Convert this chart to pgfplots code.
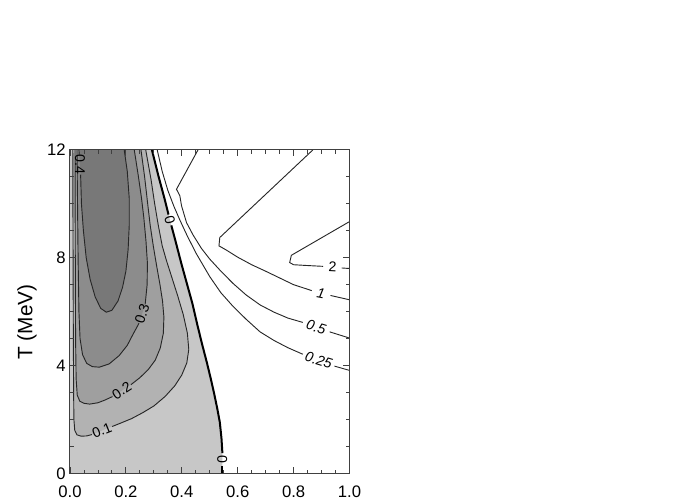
\documentclass[border=0pt]{standalone}
\usepackage{fontspec}
\setmainfont{Liberation Sans}
\usepackage{pgfplots}
\pgfplotsset{compat=1.18}

\definecolor{lev0}{gray}{0.78}
\definecolor{lev1}{gray}{0.70}
\definecolor{lev2}{gray}{0.625}
\definecolor{lev3}{gray}{0.55}
\definecolor{lev4}{gray}{0.47}

\begin{document}
\begin{tikzpicture}
\begin{axis}[
  x=167.7pt, y=16.175pt,
  xmin=0, xmax=1, ymin=0, ymax=12,
  axis on top,
  xtick={0,0.2,0.4,0.6,0.8,1},
  ytick={0,4,8,12},
  minor x tick num=3, minor y tick num=3,
  tick align=inside,
  xtick pos=both, ytick pos=both,
  major tick length=3.8pt, minor tick length=2.2pt,
  tick style={black!75, line width=0.5pt},
  axis line style={black!75, line width=0.6pt},
  /pgf/number format/assume math mode=true,
  tick label style={font=\fontsize{10}{12}\selectfont},
  xticklabel style={yshift=-3.8pt, /pgf/number format/fixed, /pgf/number format/fixed zerofill, /pgf/number format/precision=1},
  yticklabel style={xshift=1pt},
  ylabel={T (MeV)},
  ylabel style={font=\fontsize{12.5}{14}\selectfont, at={(axis description cs:-0.154,0.468)}, anchor=center},
  clip=true,
]
% filled bands
\addplot[draw=none, fill=lev0] coordinates {
  (0,0) (0.545,0) (0.545,0.8) (0.542,1.3) (0.536,1.9) (0.527,2.4) (0.516,2.95)
  (0.504,3.5) (0.49,4.1) (0.474,4.74) (0.457,5.45) (0.438,6.3) (0.418,7.05)
  (0.398,7.8) (0.378,8.6) (0.358,9.38) (0.338,10.2) (0.316,11.05) (0.293,12) (0,12)
};
\addplot[draw=none, fill=lev1] coordinates {
  (0.010,12) (0.011,8) (0.012,5) (0.013,3) (0.014,2) (0.017,1.6) (0.025,1.43)
  (0.04,1.38) (0.06,1.39) (0.078,1.44) (0.114,1.59) (0.151,1.74) (0.18,1.86)
  (0.22,2.03) (0.26,2.25) (0.30,2.5) (0.34,2.85) (0.375,3.25) (0.40,3.65)
  (0.418,4.1) (0.425,4.6) (0.42,5.2) (0.405,5.9) (0.385,6.6) (0.365,7.25)
  (0.345,7.9) (0.33,8.44) (0.316,9.2) (0.303,10) (0.29,10.9) (0.271,12)
};
\addplot[draw=none, fill=lev2] coordinates {
  (0.018,12) (0.019,8) (0.02,5) (0.022,3.5) (0.026,2.9) (0.035,2.68) (0.05,2.6)
  (0.07,2.57) (0.10,2.62) (0.125,2.72) (0.152,2.85) (0.185,3.07) (0.218,3.29)
  (0.25,3.55) (0.28,3.85) (0.305,4.2) (0.323,4.65) (0.334,5.2) (0.336,5.8)
  (0.331,6.4) (0.322,7) (0.31,7.7) (0.298,8.44) (0.287,9.2) (0.278,10)
  (0.267,11) (0.254,12)
};
\addplot[draw=none, fill=lev3] coordinates {
  (0.025,12) (0.027,10) (0.029,8) (0.032,6) (0.036,5) (0.045,4.4) (0.06,4.08)
  (0.08,3.96) (0.105,3.94) (0.14,4.06) (0.176,4.37) (0.205,4.75) (0.225,5.15)
  (0.247,5.57) (0.258,5.92) (0.269,6.27) (0.276,7) (0.277,7.8) (0.272,8.6)
  (0.264,9.5) (0.256,10.2) (0.245,11) (0.23,12)
};
\addplot[draw=none, fill=lev4] coordinates {
  (0.032,12) (0.036,11.45) (0.038,11.08) (0.041,10) (0.048,9) (0.058,8)
  (0.072,7.2) (0.09,6.55) (0.11,6.12) (0.13,5.98) (0.15,6.05) (0.172,6.4)
  (0.188,6.9) (0.2,7.5) (0.208,8.3) (0.212,9.2) (0.212,10.2) (0.205,11.2) (0.194,12)
};

% contour lines, left part
\pgfplotsset{cl/.style={black!85, line width=0.55pt}}
\addplot[cl] coordinates {
  (0.010,12) (0.011,8) (0.012,5) (0.013,3) (0.014,2) (0.017,1.6) (0.025,1.43)
  (0.04,1.38) (0.06,1.39) (0.078,1.44)
};
\addplot[cl] coordinates {
  (0.151,1.74) (0.18,1.86) (0.22,2.03) (0.26,2.25) (0.30,2.5) (0.34,2.85)
  (0.375,3.25) (0.40,3.65) (0.418,4.1) (0.425,4.6) (0.42,5.2) (0.405,5.9)
  (0.385,6.6) (0.365,7.25) (0.345,7.9) (0.33,8.44) (0.316,9.2) (0.303,10)
  (0.29,10.9) (0.271,12)
};
\addplot[cl] coordinates {
  (0.018,12) (0.019,8) (0.02,5) (0.022,3.5) (0.026,2.9) (0.035,2.68) (0.05,2.6)
  (0.07,2.57) (0.10,2.62) (0.125,2.72) (0.152,2.85)
};
\addplot[cl] coordinates {
  (0.218,3.29) (0.25,3.55) (0.28,3.85) (0.305,4.2) (0.323,4.65) (0.334,5.2)
  (0.336,5.8) (0.331,6.4) (0.322,7) (0.31,7.7) (0.298,8.44) (0.287,9.2)
  (0.278,10) (0.267,11) (0.254,12)
};
\addplot[cl] coordinates {
  (0.025,12) (0.027,10) (0.029,8) (0.032,6) (0.036,5) (0.045,4.4) (0.06,4.08)
  (0.08,3.96) (0.105,3.94) (0.14,4.06) (0.176,4.37) (0.205,4.75) (0.225,5.15)
  (0.247,5.57)
};
\addplot[cl] coordinates {
  (0.269,6.27) (0.276,7) (0.277,7.8) (0.272,8.6) (0.264,9.5) (0.256,10.2)
  (0.245,11) (0.23,12)
};
\addplot[cl] coordinates {(0.032,12) (0.033,11.82)};
\addplot[cl] coordinates {
  (0.038,11.08) (0.041,10) (0.048,9) (0.058,8) (0.072,7.2) (0.09,6.55)
  (0.11,6.12) (0.13,5.98) (0.15,6.05) (0.172,6.4) (0.188,6.9) (0.2,7.5)
  (0.208,8.3) (0.212,9.2) (0.212,10.2) (0.205,11.2) (0.194,12)
};

% zero contour (thick)
\addplot[black, line width=1.2pt] coordinates {(0.545,0) (0.545,0.28)};
\addplot[black, line width=1.2pt] coordinates {
  (0.545,0.75) (0.545,0.8) (0.542,1.3) (0.536,1.9) (0.527,2.4) (0.516,2.95)
  (0.504,3.5) (0.49,4.1) (0.474,4.74) (0.457,5.45) (0.438,6.3) (0.418,7.05)
  (0.398,7.8) (0.378,8.6) (0.3625,9.2)
};
\addplot[black, line width=1.2pt] coordinates {
  (0.3526,9.6) (0.338,10.2) (0.316,11.05) (0.293,12)
};

% contour lines, right part
\addplot[cl] coordinates {
  (0.312,12) (0.33,11.2) (0.35,10.5) (0.372,9.9) (0.393,9.4) (0.42,8.8)
  (0.452,8.15) (0.50,7.3) (0.54,6.7) (0.583,6.2) (0.63,5.72) (0.68,5.25)
  (0.73,4.93) (0.78,4.66) (0.833,4.42)
};
\addplot[cl] coordinates {(0.946,3.98) (1,3.82)};
\addplot[cl] coordinates {
  (0.458,12) (0.381,10.54) (0.393,10.3) (0.399,9.93) (0.417,9.3) (0.44,8.85)
  (0.47,8.35) (0.50,7.95) (0.54,7.5) (0.583,7.05) (0.63,6.62) (0.68,6.25)
  (0.73,5.98) (0.78,5.76) (0.833,5.6)
};
\addplot[cl] coordinates {(0.929,5.25) (1,5.02)};
\addplot[cl] coordinates {
  (0.869,12) (0.536,8.75) (0.533,8.44) (0.56,8.28) (0.60,8.02) (0.65,7.74)
  (0.70,7.5) (0.75,7.25) (0.80,7.0) (0.865,6.78)
};
\addplot[cl] coordinates {(0.932,6.6) (1,6.44)};
\addplot[cl] coordinates {
  (1,9.34) (0.792,8.09) (0.786,7.82) (0.80,7.74) (0.85,7.71) (0.906,7.68)
};
\addplot[cl] coordinates {(0.972,7.62) (1,7.6)};

% contour labels
\begin{scope}[every node/.style={font=\fontsize{8.5}{9}\selectfont, inner sep=0pt}]
\node[rotate=-90] at (axis cs:0.036,11.45) {0.4};
\node[rotate=72] at (axis cs:0.258,5.92) {0.3};
\node[rotate=33] at (axis cs:0.185,3.07) {0.2};
\node[rotate=22] at (axis cs:0.114,1.59) {0.1};
\node[rotate=-75] at (axis cs:0.357,9.4) {0};
\node[rotate=-90] at (axis cs:0.545,0.515) {0};
\node[rotate=-17, font=\fontsize{8.5}{9}\selectfont\itshape] at (axis cs:0.89,4.2) {0.25};
\node[rotate=-17, font=\fontsize{8.5}{9}\selectfont\itshape] at (axis cs:0.881,5.43) {0.5};
\node[rotate=-11, font=\fontsize{8.5}{9}\selectfont\itshape] at (axis cs:0.898,6.69) {1};
\node[rotate=-3] at (axis cs:0.939,7.65) {2};
\end{scope}

\coordinate (bl) at (axis cs:-0.2504,-0.983);
\coordinate (tr) at (axis cs:2.254,17.56);
\end{axis}
\pgfresetboundingbox
\path[use as bounding box] (bl) rectangle (tr);
\end{tikzpicture}
\end{document}
